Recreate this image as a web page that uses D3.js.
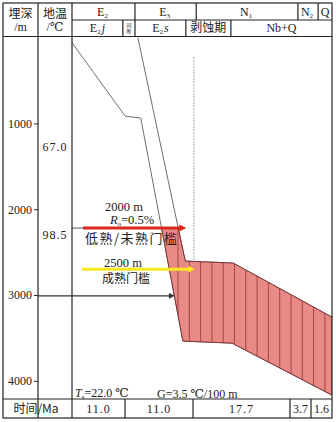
<!DOCTYPE html>
<html>
<head>
<meta charset="utf-8">
<script src="https://cdn.jsdelivr.net/npm/d3@7"></script>
<style>
  body { margin: 0; background: #fff; }
  svg { display: block; }
  .num { font-family: "Liberation Serif", "DejaVu Serif", serif; font-size: 12px; fill: #222; }
  .cn { font-family: "Noto Sans CJK SC", sans-serif; font-size: 12px; fill: #222; }
</style>
</head>
<body>
<div id="chart"></div>
<script>
// burial curves: time (Ma) and depth (m)
const lowerTime = [45, 35.8, 33.1, 25.8, 17.3, 0];
const lowerDepth = [60, 915, 938, 3537, 3561, 4167];
const upperTime = [33.6, 25.4, 17.1, 0];
const upperDepth = [0, 2605, 2628, 3258];

// stratigraphy header (boundaries in Ma)
const periodLabels = [["E", "2"], ["E", "3"], ["N", "1"], ["N", "2"], ["Q", ""]];
const periodBounds = [45, 34.1, 23.5, 5.9, 2.4, 0];
const unitLabels = [["E", "2", "j"], ["间断"], ["E", "2", "s"], ["剥蚀期"], ["Nb+Q"]];
const unitBounds = [45, 36.2, 34.1, 25.3, 17.5, 0];

// bottom row durations (Ma)
const durations = ["11.0", "11.0", "17.7", "3.7", "1.6"];

// depth axis and temperatures
const depthTicks = [1000, 2000, 3000, 4000];
const tempLabels = ["67.0", "98.5"];
const tempDepths = [1280, 2300];

// thresholds (m)
const immatureDepth = 2220;
const matureDepth = 2700;
const markDepth = 3010;
const dottedTime = 23.9;
const dottedDepth = [230, 2610];

const width = 336, height = 422;
const svg = d3.select("#chart").append("svg")
  .attr("width", width).attr("height", height);

const xScale = d3.scaleLinear().domain([45, 0]).range([72, 332]);
const yScale = d3.scaleLinear().domain([0, 4000]).range([37.6, 380.8]);

const lower = lowerTime.map((t, i) => ({ t, d: lowerDepth[i] }));
const upper = upperTime.map((t, i) => ({ t, d: upperDepth[i] }));
const line = d3.line().x(p => xScale(p.t)).y(p => yScale(p.d));

const defs = svg.append("defs");
defs.append("clipPath").attr("id", "below")
  .append("rect")
  .attr("x", 72).attr("y", yScale(immatureDepth))
  .attr("width", 260).attr("height", 399 - yScale(immatureDepth));
const bandPath = line(upper.concat(lower.slice().reverse())) + "Z";
defs.append("clipPath").attr("id", "band")
  .append("path").attr("d", bandPath);

// grey burial lines
const plot = svg.append("g");
[lower, upper].forEach(pts => {
  plot.append("path")
    .attr("d", line(pts))
    .attr("fill", "none")
    .attr("stroke", "#6e6e6e")
    .attr("stroke-width", 1);
});

// red band below the immature threshold, with vertical hatching
const red = plot.append("g").attr("clip-path", "url(#below)");
red.append("path")
  .attr("d", bandPath)
  .attr("fill", "#ea8a87");
red.append("g").attr("clip-path", "url(#band)")
  .selectAll("line")
  .data(d3.range(178, 332, 11.3))
  .join("line")
    .attr("x1", d => d).attr("x2", d => d)
    .attr("y1", 36).attr("y2", 399)
    .attr("stroke", "#9c3f3f")
    .attr("stroke-width", 0.9);
red.append("path")
  .attr("d", bandPath)
  .attr("fill", "none")
  .attr("stroke", "#7a3434")
  .attr("stroke-width", 1);

// dotted vertical line
plot.append("line")
  .attr("x1", xScale(dottedTime)).attr("x2", xScale(dottedTime))
  .attr("y1", yScale(dottedDepth[0])).attr("y2", yScale(dottedDepth[1]))
  .attr("stroke", "#8a8a8a")
  .attr("stroke-dasharray", "1.5,1.5")
  .attr("stroke-width", 1);

// arrows
const arrow = (x1, x2, y, color, w, hl, hw) => {
  svg.append("line")
    .attr("x1", x1).attr("x2", x2 - hl + 1)
    .attr("y1", y).attr("y2", y)
    .attr("stroke", color).attr("stroke-width", w);
  svg.append("path")
    .attr("d", `M${x2 - hl},${y - hw}L${x2},${y}L${x2 - hl},${y + hw}Z`)
    .attr("fill", color);
};
svg.append("line")
  .attr("x1", 72).attr("x2", xScale(43.1))
  .attr("y1", yScale(immatureDepth)).attr("y2", yScale(immatureDepth))
  .attr("stroke", "#555").attr("stroke-width", 1);
arrow(xScale(43.1), xScale(25.2), yScale(immatureDepth), "#d8291d", 3, 7, 3.5);
arrow(xScale(43.3), xScale(23.7), yScale(matureDepth), "#f6e81c", 3, 7, 3.5);
arrow(38, xScale(27.2), yScale(markDepth), "#333", 1.2, 6, 2.8);

// annotations
const txt = (x, y, cls, anchor) => svg.append("text")
  .attr("x", x).attr("y", y).attr("class", cls).attr("text-anchor", anchor || "middle");

txt(124, 211, "num").style("font-size", "12.5px").text("2000 m");
const ro = txt(132, 224, "num").style("font-size", "12.5px");
ro.append("tspan").attr("font-style", "italic").text("R");
ro.append("tspan").attr("font-size", "7px").attr("dy", 2).text("o");
ro.append("tspan").attr("dy", -2).text("=0.5%");
txt(131, 243, "cn").style("font-size", "13px")
  .attr("textLength", 92).attr("lengthAdjust", "spacing").text("低熟/未熟门槛");
txt(123, 267, "num").style("font-size", "12.5px").text("2500 m");
txt(126, 283, "cn").text("成熟门槛");

const ts = txt(75, 397, "num", "start");
ts.append("tspan").attr("font-style", "italic").text("T");
ts.append("tspan").attr("font-size", "7px").attr("dy", 2).text("s");
ts.append("tspan").attr("dy", -2).text("=22.0 ℃");
txt(157, 398, "num", "start").text("G=3.5 ℃/100 m");

// temperatures column
tempLabels.forEach((t, i) => {
  txt(55, yScale(tempDepths[i]) + 4, "num").attr("letter-spacing", "1px").text(t);
});

// depth axis
const axis = svg.append("g")
  .attr("transform", "translate(38,0)")
  .call(d3.axisLeft(yScale).tickValues(depthTicks).tickFormat(d3.format("d"))
    .tickSize(4).tickPadding(2));
axis.select(".domain").remove();
axis.selectAll(".tick line").attr("stroke", "#222");
axis.selectAll(".tick text")
  .attr("font-family", "Liberation Serif, serif")
  .attr("font-size", 12)
  .attr("fill", "#222");

// table frame
const frame = svg.append("g")
  .attr("stroke", "#222").attr("stroke-width", 1.2).attr("fill", "none");
frame.append("rect").attr("x", 3).attr("y", 3).attr("width", 329).attr("height", 415);
[38, 72].forEach(x => frame.append("line").attr("x1", x).attr("x2", x).attr("y1", 3).attr("y2", 418));
frame.append("line").attr("x1", 72).attr("x2", 332).attr("y1", 20).attr("y2", 20);
[36.5, 399].forEach(y => frame.append("line").attr("x1", 3).attr("x2", 332).attr("y1", y).attr("y2", y));
periodBounds.slice(1, -1).forEach(t => frame.append("line")
  .attr("x1", xScale(t)).attr("x2", xScale(t)).attr("y1", 3).attr("y2", 20));
unitBounds.slice(1, -1).forEach(t => frame.append("line")
  .attr("x1", xScale(t)).attr("x2", xScale(t)).attr("y1", 20).attr("y2", 36.5));

// header texts
txt(20.5, 17.5, "cn").text("埋深");
txt(20.5, 31, "num").text("/m");
txt(55, 17.5, "cn").text("地温");
txt(55, 31, "num").text("/℃");

periodLabels.forEach((p, i) => {
  const cx = (xScale(periodBounds[i]) + xScale(periodBounds[i + 1])) / 2;
  const t = txt(cx + (p[1] ? -1 : 0), 16, "num");
  t.append("tspan").text(p[0]);
  if (p[1]) t.append("tspan").attr("font-size", "7px").attr("dy", 2).text(p[1]);
});

unitLabels.forEach((u, i) => {
  const cx = (xScale(unitBounds[i]) + xScale(unitBounds[i + 1])) / 2;
  if (u[0] === "间断") {
    txt(cx, 27, "cn").style("font-size", "5px").text("间");
    txt(cx, 33, "cn").style("font-size", "5px").text("断");
  } else if (u.length === 3) {
    const t = txt(cx, 32, "num");
    t.append("tspan").text(u[0]);
    t.append("tspan").attr("font-size", "7px").attr("dy", 2).text(u[1]);
    t.append("tspan").attr("dy", -2).attr("dx", 1).attr("font-style", "italic").text(u[2]);
  } else {
    txt(cx, 32, /[A-Za-z]/.test(u[0]) ? "num" : "cn").text(u[0]);
  }
});

// bottom row
txt(36, 413, "cn").text("时间/Ma");
const cellEdges = [72, 125, 193, 290, 311, 332];
durations.forEach((d, i) => {
  if (i > 0) frame.append("line")
    .attr("x1", cellEdges[i]).attr("x2", cellEdges[i]).attr("y1", 399).attr("y2", 418);
  txt((cellEdges[i] + cellEdges[i + 1]) / 2, 413, "num")
    .attr("letter-spacing", i > 2 ? "0px" : "1px").text(d);
});
</script>
</body>
</html>
